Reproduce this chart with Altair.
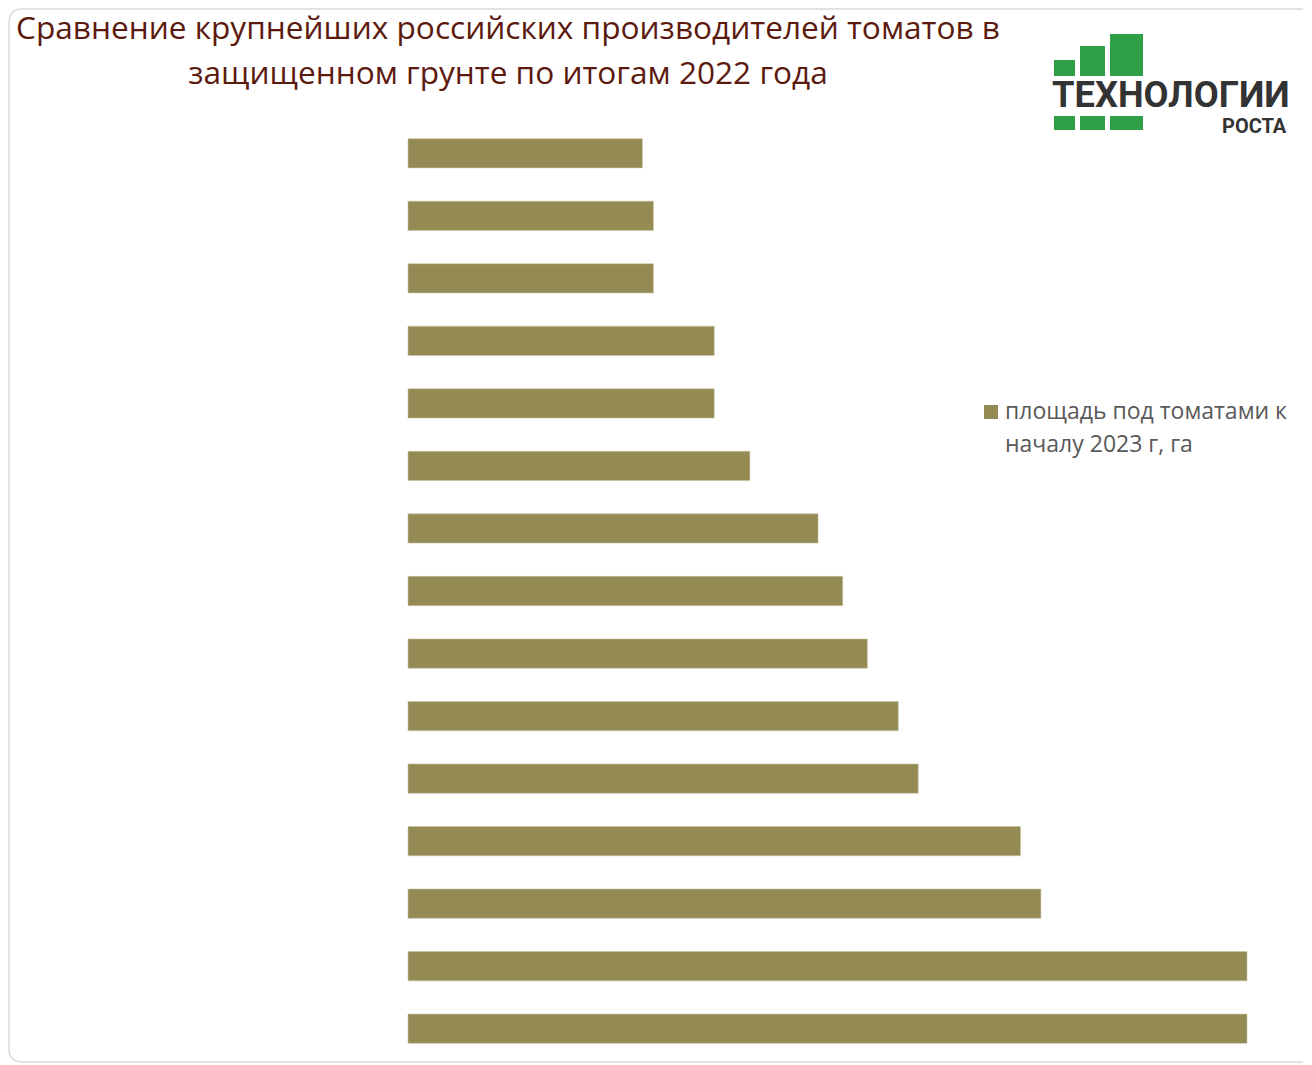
import altair as alt
import pandas as pd

# --- data (top bar first) ---
producers = [str(i) for i in range(1, 16)]
area_ha = [44.7, 46.8, 46.8, 58.4, 58.4, 65.2, 78.2, 82.9, 87.6, 93.5, 97.3, 116.8, 120.7, 160.0, 160.0]
series_lines = ["площадь под томатами к", "началу 2023 г, га"]
title_lines = ["Сравнение крупнейших российских производителей томатов в",
               "защищенном грунте по итогам 2022 года"]
logo_words = ["ТЕХНОЛОГИИ", "РОСТА"]

W, H = 839, 938
BAR = "#948A54"

df = pd.DataFrame({"producer": producers, "area": area_ha})

bars = alt.Chart(df).mark_bar(color=BAR, stroke="#C9C3A3", strokeWidth=0.6).encode(
    y=alt.Y("producer:N", sort=producers, axis=None,
            scale=alt.Scale(paddingInner=0.532, paddingOuter=0.266)),
    x=alt.X("area:Q", axis=None, scale=alt.Scale(domain=[0, 160], nice=False, zero=True)),
)

one = pd.DataFrame({"k": [0]})

def text_layer(txt, x, y, size, color, font, weight="normal", align="left"):
    return alt.Chart(one).mark_text(align=align, baseline="alphabetic", font=font,
                                    fontSize=size, color=color, fontWeight=weight).encode(
        x=alt.value(x), y=alt.value(y), text=alt.value(txt))

t1 = text_layer(title_lines[0], 100, -83, 31.6, "#5C1A0E", "Open Sans", align="center")
t2 = text_layer(title_lines[1], 100, -38, 31.6, "#5C1A0E", "Open Sans", align="center")

# legend (manual, two-line label)
leg_sym = alt.Chart(one).mark_square(size=196, color=BAR, opacity=1).encode(
    x=alt.value(583), y=alt.value(290))
leg1 = text_layer(series_lines[0], 597, 297, 23, "#595959", "Open Sans")
leg2 = text_layer(series_lines[1], 597, 330, 23, "#595959", "Open Sans")

logo1 = text_layer(logo_words[0], 644, -15, 36.3, "#333333", "Roboto", weight="bold")
logo2 = text_layer(logo_words[1], 814, 11, 20, "#333333", "Roboto", weight="bold")

def green(x1, x2, y1, y2):
    return alt.Chart(one).mark_rect(color="#2E9E47").encode(
        x=alt.value(x1), x2=alt.value(x2), y=alt.value(y1), y2=alt.value(y2))

blocks = [green(646, 667, -62, -46), green(672, 697, -76, -46), green(702, 735, -88, -46),
          green(646, 667, -6, 8), green(672, 697, -6, 8), green(702, 735, -6, 8)]

border = alt.Chart(one).mark_rect(fill="white", fillOpacity=0, stroke="#D9D9D9",
                                  strokeWidth=1.5, cornerRadius=12).encode(
    x=alt.value(-399), x2=alt.value(W + 80), y=alt.value(-113), y2=alt.value(H + 2))

chart = alt.layer(border, bars, t1, t2, leg_sym, leg1, leg2, logo1, logo2, *blocks).properties(
    width=W, height=H,
    autosize=alt.AutoSizeParams(type="none"),
    padding={"left": 400, "top": 114, "right": 56, "bottom": 3},
).configure_view(stroke=None)

chart.save("out.html", embed_options={"renderer": "svg", "actions": False})
